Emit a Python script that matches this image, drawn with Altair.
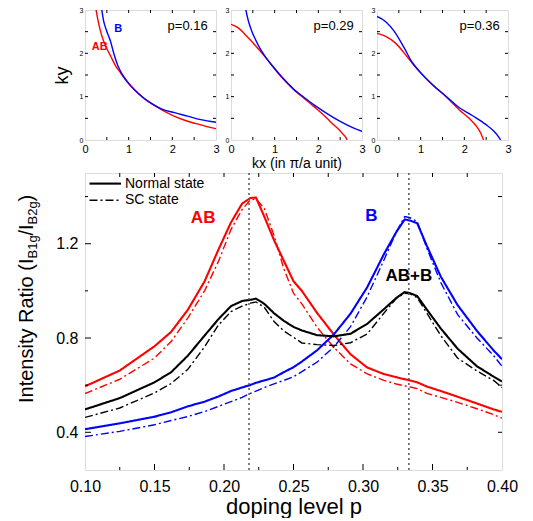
import altair as alt
import pandas as pd

FONT = "Liberation Sans"
RED, BLUE, BLACK = "#ff0000", "#0000ff", "#000000"

# ---------------- main panel: intensity ratio vs doping ----------------
P = [0.100, 0.125, 0.150, 0.162, 0.174, 0.186, 0.196, 0.205, 0.213, 0.219,
     0.223, 0.229, 0.236, 0.243, 0.250, 0.256, 0.267, 0.279, 0.291, 0.303,
     0.315, 0.324, 0.330, 0.334, 0.339, 0.346, 0.356, 0.368, 0.382, 0.394, 0.400]
AB_NORMAL = [0.595, 0.662, 0.765, 0.826, 0.92, 1.04, 1.175, 1.29, 1.37, 1.394,
             1.396, 1.315, 1.215, 1.128, 1.041, 1.0, 0.906, 0.815, 0.731, 0.675,
             0.647, 0.634, 0.625, 0.62, 0.612, 0.594, 0.575, 0.551, 0.522, 0.497, 0.487]
AB_SC = [0.564, 0.625, 0.715, 0.785, 0.885, 1.0, 1.125, 1.26, 1.345, 1.386,
         1.39, 1.35, 1.235, 1.095, 0.99, 0.945, 0.845, 0.76, 0.69, 0.648,
         0.62, 0.605, 0.597, 0.592, 0.585, 0.565, 0.548, 0.527, 0.5, 0.475, 0.46]
B_NORMAL = [0.413, 0.438, 0.466, 0.485, 0.51, 0.53, 0.552, 0.575, 0.59, 0.601,
            0.61, 0.62, 0.632, 0.655, 0.676, 0.7, 0.748, 0.815, 0.903, 1.015,
            1.155, 1.25, 1.303, 1.298, 1.287, 1.19, 1.06, 0.94, 0.83, 0.747, 0.71]
B_SC = [0.382, 0.404, 0.432, 0.45, 0.467, 0.488, 0.51, 0.53, 0.548, 0.565,
        0.575, 0.59, 0.605, 0.62, 0.636, 0.657, 0.698, 0.762, 0.848, 0.975,
        1.13, 1.25, 1.315, 1.31, 1.294, 1.18, 1.035, 0.9, 0.8, 0.725, 0.68]
ABB_NORMAL = [0.497, 0.545, 0.612, 0.655, 0.725, 0.81, 0.88, 0.935, 0.957, 0.962,
              0.967, 0.945, 0.905, 0.873, 0.847, 0.832, 0.812, 0.807, 0.818, 0.86,
              0.922, 0.97, 0.995, 0.99, 0.978, 0.92, 0.84, 0.755, 0.68, 0.636, 0.615]
ABB_SC = [0.463, 0.503, 0.567, 0.607, 0.667, 0.762, 0.855, 0.912, 0.935, 0.948,
          0.953, 0.93, 0.87, 0.83, 0.803, 0.779, 0.772, 0.768, 0.78, 0.817,
          0.905, 0.968, 0.99, 0.987, 0.971, 0.905, 0.81, 0.715, 0.66, 0.62, 0.59]

BANDS = ["AB", "B", "AB+B"]
STATES = ["Normal state", "SC state"]
DOTTED_P = [0.218, 0.333]
X_LABELS = [0.10, 0.15, 0.20, 0.25, 0.30, 0.35, 0.40]
Y_LABELS = [0.4, 0.8, 1.2]
X_MAJOR = [0.15, 0.20, 0.25, 0.30, 0.35]
X_MINOR = [0.125, 0.175, 0.225, 0.275, 0.325, 0.375]
Y_MAJOR = [0.4, 0.8, 1.2]
Y_MINOR = [0.6, 1.0, 1.4]
MAIN_LABELS = ["AB", "B", "AB+B"]
MAIN_LABEL_P = [0.185, 0.306, 0.333]
MAIN_LABEL_V = [1.31, 1.318, 1.062]

# ---------------- Fermi-surface insets ----------------
AB16_KX = [0.254, 0.30, 0.38, 0.50, 0.60, 0.69, 0.80, 0.96, 1.15, 1.35, 1.55, 1.75, 2.00, 2.30, 2.65, 3.00]
AB16_KY = [3.0, 2.75, 2.42, 2.11, 1.91, 1.73, 1.57, 1.35, 1.14, 0.96, 0.82, 0.70, 0.57, 0.45, 0.35, 0.26]
B16_KX = [0.385, 0.42, 0.48, 0.577, 0.67, 0.746, 0.85, 0.96, 1.15, 1.35, 1.55, 1.75, 2.05, 2.35, 2.65, 3.00]
B16_KY = [3.0, 2.78, 2.56, 2.30, 1.96, 1.73, 1.52, 1.36, 1.14, 0.965, 0.83, 0.72, 0.63, 0.55, 0.47, 0.41]
AB29_KX = [0.0, 0.15, 0.30, 0.45, 0.60, 0.78, 1.00, 1.15, 1.30, 1.45, 1.60, 1.75, 1.90, 2.05, 2.20, 2.35, 2.47, 2.57, 2.63, 2.66]
AB29_KY = [2.67, 2.60, 2.46, 2.30, 2.13, 1.92, 1.64, 1.46, 1.30, 1.15, 1.02, 0.90, 0.77, 0.64, 0.50, 0.35, 0.24, 0.13, 0.06, 0.0]
B29_KX = [0.34, 0.40, 0.48, 0.56, 0.66, 0.78, 1.00, 1.15, 1.30, 1.45, 1.60, 1.90, 2.20, 2.50, 2.80, 3.00]
B29_KY = [3.0, 2.74, 2.50, 2.32, 2.12, 1.93, 1.65, 1.47, 1.31, 1.16, 1.04, 0.81, 0.61, 0.43, 0.28, 0.20]
AB36_KX = [0.0, 0.2, 0.43, 0.66, 0.80, 0.97, 1.27, 1.58, 1.88, 2.11, 2.26, 2.38, 2.44]
AB36_KY = [2.46, 2.39, 2.23, 1.96, 1.78, 1.58, 1.27, 1.0, 0.70, 0.50, 0.34, 0.15, 0.0]
B36_KX = [0.0, 0.2, 0.40, 0.62, 0.80, 0.97, 1.27, 1.58, 1.88, 2.19, 2.49, 2.68, 2.80, 2.83]
B36_KY = [2.85, 2.73, 2.50, 2.13, 1.80, 1.59, 1.28, 1.01, 0.75, 0.56, 0.36, 0.20, 0.05, 0.0]
K_LABELS = [0, 1, 2, 3]
K_TICKS = [0.5, 1.0, 1.5, 2.0, 2.5]
P_TEXT = ["p=0.16", "p=0.29", "p=0.36"]

PW, PH = 131, 130
MW, MH = 417, 297

color_scale = alt.Scale(domain=BANDS, range=[RED, BLUE, BLACK])


def fs_panel(curves, ptext, ytitle=None, xtitle=None, notes=()):
    rows = []
    for band, kx, ky in curves:
        for a, b in zip(kx, ky):
            rows.append({"kx": a, "ky": b, "band": band})
    df = pd.DataFrame(rows)
    ks = alt.Scale(domain=[0, 3], nice=False, zero=False)
    xkw = dict(values=K_LABELS, format="d", labelFontSize=11, labelPadding=3, labelFlush=False,
               labelOverlap=False, ticks=False, domain=False, grid=False)
    if xtitle:
        xkw.update(title=xtitle, titleFontSize=14, titleFontWeight="normal", titlePadding=2)
    else:
        xkw.update(title=None)
    ykw = dict(values=K_LABELS, format="d", labelFontSize=7, labelPadding=2, labelFlush=False,
               labelOverlap=False, ticks=False, domain=False, grid=False)
    if ytitle:
        ykw.update(title=ytitle, titleFontSize=18, titleFontWeight="normal", titlePadding=8)
    else:
        ykw.update(title=None)
    XA = alt.Axis(**xkw)
    YA = alt.Axis(**ykw)
    X = lambda: alt.X("kx:Q", scale=ks, axis=XA)
    Y = lambda: alt.Y("ky:Q", scale=ks, axis=YA)
    lines = alt.Chart(df).mark_line(strokeWidth=1.4, interpolate="monotone", clip=True).encode(
        x=X(), y=Y(),
        color=alt.Color("band:N", scale=color_scale, legend=None),
        detail="band:N",
    )
    tdf = pd.DataFrame({"kx": K_TICKS, "ky": K_TICKS})
    tb = alt.Chart(tdf).mark_rule(color="black", strokeWidth=1).encode(
        x=X(), y=alt.value(PH), y2=alt.value(PH - 3))
    tt = alt.Chart(tdf).mark_rule(color="black", strokeWidth=1).encode(
        x=X(), y=alt.value(0), y2=alt.value(3))
    tl = alt.Chart(tdf).mark_rule(color="black", strokeWidth=1).encode(
        y=Y(), x=alt.value(0), x2=alt.value(3))
    tr = alt.Chart(tdf).mark_rule(color="black", strokeWidth=1).encode(
        y=Y(), x=alt.value(PW - 3), x2=alt.value(PW))
    pt = alt.Chart(pd.DataFrame({"kx": [2.35], "ky": [2.62], "t": [ptext]})).mark_text(
        fontSize=13, color="black", align="center", baseline="middle").encode(
        x=X(), y=Y(), text="t:N")
    layers = [lines, tb, tt, tl, tr, pt]
    for txt, col, kx, ky in notes:
        layers.append(alt.Chart(pd.DataFrame({"kx": [kx], "ky": [ky], "t": [txt]})).mark_text(
            fontSize=11, fontWeight="bold", color=col, align="center", baseline="middle").encode(
            x=X(), y=Y(), text="t:N"))
    return alt.layer(*layers).properties(width=PW, height=PH)


p1 = fs_panel([("AB", AB16_KX, AB16_KY), ("B", B16_KX, B16_KY)], P_TEXT[0], ytitle="ky",
              notes=[("AB", RED, 0.335, 2.15), ("B", BLUE, 0.76, 2.56)])
p2 = fs_panel([("AB", AB29_KX, AB29_KY), ("B", B29_KX, B29_KY)], P_TEXT[1], xtitle="kx (in \u03c0/a unit)")
p3 = fs_panel([("AB", AB36_KX, AB36_KY), ("B", B36_KX, B36_KY)], P_TEXT[2])
top = alt.hconcat(p1, p2, p3, spacing=15, bounds="flush")

# ---------------- main chart ----------------
rows = []
for band, state, vals in [("AB", "Normal state", AB_NORMAL), ("AB", "SC state", AB_SC),
                          ("B", "Normal state", B_NORMAL), ("B", "SC state", B_SC),
                          ("AB+B", "Normal state", ABB_NORMAL), ("AB+B", "SC state", ABB_SC)]:
    for p, v in zip(P, vals):
        rows.append({"p": p, "v": v, "band": band, "state": state})
mdf = pd.DataFrame(rows)

xs = alt.Scale(domain=[0.1, 0.4], nice=False, zero=False)
ys = alt.Scale(domain=[0.24, 1.5], nice=False, zero=False)
MX_AXIS = alt.Axis(values=X_LABELS, format=".2f", labelFontSize=16, labelPadding=8, labelFlush=False,
                   labelOverlap=False, ticks=False, domain=False, grid=False, title="doping level p",
                   titleFontSize=22, titleFontWeight="normal", titlePadding=2)
MY_AXIS = alt.Axis(values=Y_LABELS, format=".1f", labelFontSize=16, labelPadding=7, labelFlush=False,
                   labelOverlap=False, ticks=False, domain=False, grid=False, title=None)


def MX():
    return alt.X("p:Q", scale=xs, axis=MX_AXIS)


def MY():
    return alt.Y("v:Q", scale=ys, axis=MY_AXIS)


lines = alt.Chart(mdf).mark_line(clip=True).encode(
    x=MX(), y=MY(),
    color=alt.Color("band:N", scale=color_scale, legend=None),
    strokeDash=alt.StrokeDash("state:N", scale=alt.Scale(domain=STATES, range=[[1, 0], [8, 3, 2, 3]]), legend=None),
    strokeWidth=alt.StrokeWidth("state:N", scale=alt.Scale(domain=STATES, range=[2.1, 1.4]), legend=None),
    detail="state:N",
)

dots = alt.Chart(pd.DataFrame({"p": DOTTED_P})).mark_rule(color="#555555", strokeDash=[2, 3], strokeWidth=1.5).encode(
    x=MX())

notes = alt.Chart(pd.DataFrame({"p": MAIN_LABEL_P, "v": MAIN_LABEL_V, "t": MAIN_LABELS, "band": MAIN_LABELS})).mark_text(
    fontSize=17, fontWeight="bold", align="center", baseline="middle").encode(
    x=MX(), y=MY(), text="t:N",
    color=alt.Color("band:N", scale=color_scale, legend=None))


def xticks(vals, y0, y1):
    return alt.Chart(pd.DataFrame({"p": vals})).mark_rule(color="black", strokeWidth=1).encode(
        x=MX(), y=alt.value(y0), y2=alt.value(y1))


def yticks(vals, x0, x1):
    return alt.Chart(pd.DataFrame({"v": vals})).mark_rule(color="black", strokeWidth=1).encode(
        y=MY(), x=alt.value(x0), x2=alt.value(x1))


tick_layers = [
    xticks(X_MAJOR, MH, MH - 6), xticks(X_MINOR, MH, MH - 3),
    xticks(X_MAJOR + X_MINOR, 0, 4),
    yticks(Y_MAJOR, 0, 6), yticks(Y_MINOR, 0, 3),
    yticks(Y_MAJOR + Y_MINOR, MW - 4, MW),
]

one = pd.DataFrame({"a": [0]})
legend_layers = [
    alt.Chart(one).mark_rule(color="black", strokeWidth=2.1).encode(
        x=alt.value(4.5), x2=alt.value(36), y=alt.value(10.6)),
    alt.Chart(one).mark_rule(color="black", strokeWidth=1.4, strokeDash=[8, 3, 2, 3]).encode(
        x=alt.value(4.5), x2=alt.value(36), y=alt.value(27.3)),
    alt.Chart(one).mark_text(text="Normal state", fontSize=14, align="left", baseline="middle", color="black").encode(
        x=alt.value(40), y=alt.value(10.6)),
    alt.Chart(one).mark_text(text="SC state", fontSize=14, align="left", baseline="middle", color="black").encode(
        x=alt.value(40), y=alt.value(27.3)),
]

# y-axis title with subscripts, rotated
TITLE_PARTS = [("Intensity Ratio (I", 20, -58, 230), ("B1g", 13, -52, 85.5), ("/I", 20, -58, 62.5),
               ("B2g", 13, -52, 51.5), (")", 20, -58, 28.5)]
title_layers = [
    alt.Chart(one).mark_text(text=t, fontSize=fs, angle=270, align="left", baseline="middle", color="black").encode(
        x=alt.value(xx), y=alt.value(yy))
    for t, fs, xx, yy in TITLE_PARTS
]

main = alt.layer(lines, dots, notes, *tick_layers, *legend_layers, *title_layers).properties(width=MW, height=MH)

chart = alt.vconcat(top, main, spacing=0).properties(
    padding={"left": 16, "top": 5, "right": 0, "bottom": 0}
).configure_view(stroke="black", strokeWidth=1).configure_axis(
    labelFont=FONT, titleFont=FONT, labelColor="black", titleColor="black"
).configure_text(font=FONT).configure(background="white")

chart.save("out.html", embed_options={"renderer": "svg", "actions": False})
